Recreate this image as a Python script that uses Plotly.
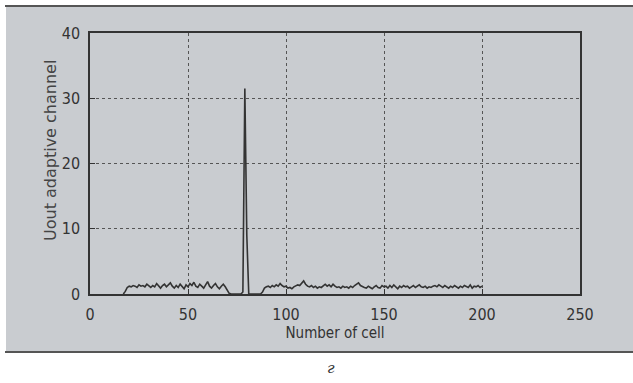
import plotly.graph_objects as go

# Values (cells 17..200)
seg_a_start = 17
seg_a = [0, 0.4, 1.0, 1.2, 1.1, 1.3, 1.2, 1.0, 1.4, 1.2,
         1.3, 1.1, 1.5, 1.2, 1.0, 1.3, 1.1, 1.6, 1.2, 0.9,
         1.3, 1.5, 1.1, 1.4, 1.7, 1.2, 0.9, 1.3, 1.0, 1.5,
         1.2, 0.8, 1.4, 1.1, 1.6, 1.3, 1.8, 1.2, 1.0, 1.5,
         1.2, 0.9, 1.4, 1.9, 1.2, 0.9, 1.3, 1.6, 1.1, 0.8,
         1.2, 1.5, 1.1, 0.6, 0.1]
seg_b = [0, 0, 0, 0, 0, 0, 0.3, 31.5, 9.0, 0, 0, 0, 0, 0, 0, 0]
seg_c = [0.3, 0.9, 1.1, 1.2, 1.0, 1.3, 1.1, 1.4, 1.2, 1.6,
         1.3, 1.1, 1.2, 0.9, 1.0, 0.8, 1.1, 1.2, 1.4, 1.3,
         1.7, 2.0, 1.5, 1.2, 1.1, 1.3, 1.0, 1.2, 0.9, 1.1,
         1.0, 1.3, 1.5, 1.2, 1.4, 1.1, 1.5, 1.2, 1.0, 1.1,
         0.9, 1.2, 1.0, 1.1, 0.9, 1.2, 1.0, 1.3, 1.5, 1.7,
         1.3, 1.1, 1.0, 0.9, 1.2, 1.0, 0.8, 1.1, 1.3, 1.0,
         0.9, 1.3, 1.1, 1.2, 0.9, 1.3, 1.0, 1.4, 1.1, 0.8,
         1.2, 1.0, 1.3, 1.1, 1.2, 0.9, 1.1, 1.3, 1.0, 1.2,
         1.4, 1.1, 1.0, 1.2, 0.9, 1.1, 1.0, 1.2, 1.3, 1.1,
         1.4, 1.2, 1.0, 1.3, 1.1, 0.9, 1.2, 1.0, 1.3, 1.1,
         0.9, 1.2, 1.0, 1.3, 1.1, 1.0, 1.4, 0.9, 1.2, 1.1,
         1.3, 1.0, 1.2]

values = seg_a + seg_b + seg_c
cells = list(range(seg_a_start, seg_a_start + len(values)))

x_ticks = [0, 50, 100, 150, 200, 250]
y_ticks = [0, 10, 20, 30, 40]
x_title = "Number of cell"
y_title = "Uout adaptive channel"
caption = "г"

W, H = 633, 383
L, R, T, B = 90, 580, 33, 294

def px(x):
    return (x - L) / (R - L)

def py(y):
    return (B - y) / (B - T)

fig = go.Figure()
fig.add_trace(go.Scatter(x=cells, y=values, mode="lines",
                         line=dict(color="#333333", width=1.6),
                         showlegend=False, hoverinfo="skip"))

narrow = "DejaVu Sans Condensed, Liberation Sans Narrow, Arial Narrow, Liberation Sans"
tick_font = dict(family=narrow, size=16, color="#333333")

fig.update_layout(
    width=W, height=H,
    margin=dict(l=L, r=W - R, t=T, b=H - B, autoexpand=False),
    paper_bgcolor="white",
    plot_bgcolor="white",
    xaxis=dict(range=[0, 250], tickvals=x_ticks, ticktext=[str(v) for v in x_ticks],
               showline=True, mirror=True, linecolor="#333333", linewidth=1.5,
               ticks="inside", ticklen=5, tickcolor="#333333",
               showgrid=True, gridcolor="#555555", griddash="dot", gridwidth=1,
               zeroline=False, tickfont=tick_font, ticklabelstandoff=5,
               automargin=False,
               title=dict(text=x_title, standoff=5,
                          font=dict(family=narrow, size=15, color="#333333"))),
    yaxis=dict(range=[0, 40], tickvals=y_ticks, ticktext=[str(v) for v in y_ticks],
               showline=True, mirror=True, linecolor="#333333", linewidth=1.5,
               ticks="inside", ticklen=5, tickcolor="#333333",
               showgrid=True, gridcolor="#555555", griddash="dot", gridwidth=1,
               zeroline=False, tickfont=tick_font, ticklabelstandoff=5,
               automargin=False),
    shapes=[
        dict(type="rect", xref="paper", yref="paper", layer="below",
             x0=px(6), x1=px(640), y0=py(352), y1=py(6),
             fillcolor="#c9ccd0", line=dict(width=0)),
        dict(type="line", xref="paper", yref="paper",
             x0=px(5), x1=px(640), y0=py(6), y1=py(6),
             line=dict(color="#555555", width=2)),
        dict(type="line", xref="paper", yref="paper",
             x0=px(5), x1=px(640), y0=py(352), y1=py(352),
             line=dict(color="#555555", width=2)),
    ],
    annotations=[
        dict(text=y_title, xref="paper", yref="paper",
             x=px(50), y=py(151), textangle=-90,
             showarrow=False, xanchor="center", yanchor="middle",
             font=dict(family="DejaVu Sans, Verdana", size=16, color="#444444")),
        dict(text="<i>" + caption + "</i>", xref="paper", yref="paper",
             x=px(331), y=py(368),
             showarrow=False, xanchor="center", yanchor="middle",
             font=dict(family="DejaVu Serif, Liberation Serif", size=15, color="#333333")),
    ],
)

fig.write_html("out.html", config={"displayModeBar": False},
               post_script="document.body.style.margin='0';document.body.style.overflow='hidden';")
